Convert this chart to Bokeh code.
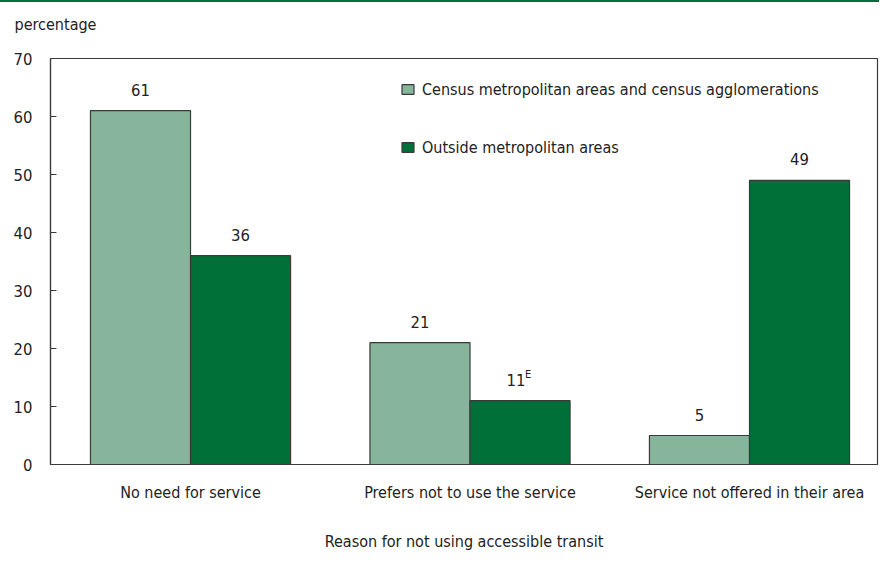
from bokeh.plotting import figure
from bokeh.models import (ColumnDataSource, Range1d, FixedTicker, LabelSet,
                          Legend, LegendItem, LinearAxis)
from bokeh.embed import file_html
from bokeh.resources import INLINE
from bokeh.core.properties import value

# ---- data ----
categories = ["No need for service", "Prefers not to use the service",
              "Service not offered in their area"]
series_names = ["Census metropolitan areas and census agglomerations",
                "Outside metropolitan areas"]
cma_values = [61, 21, 5]
outside_values = [36, 11, 49]
cma_flags = ["", "", ""]
outside_flags = ["", "E", ""]
y_ticks = [0, 10, 20, 30, 40, 50, 60, 70]
y_title = "percentage"
x_title = "Reason for not using accessible transit"

# ---- style ----
FONT = "DejaVu Sans Condensed"
TXT = "#222222"
LINE = "#3a3a3a"
LIGHT = "#86b59c"
DARK = "#007038"
FS = "16px"
FS_NUM = "16.5px"
BAR_W = 0.358
FRAME_W = 827

xs = list(range(len(categories)))

p = figure(width=879, height=551, output_backend="svg", toolbar_location=None,
           x_range=Range1d(-0.501, 2.458), y_range=Range1d(0, 70),
           min_border_left=50, min_border_right=2, min_border_top=56,
           min_border_bottom=89)
p.styles = {"border-top": "2px solid #00703c"}
p.grid.visible = False
p.outline_line_color = LINE
p.outline_line_width = 1.2
p.background_fill_color = "white"
p.border_fill_color = "white"

# main axes (grab them before any extra axis is added)
xa = p.below[0]
ya = p.left[0]

xa.ticker = FixedTicker(ticks=xs)
xa.major_label_overrides = {i: c for i, c in zip(xs, categories)}
xa.major_tick_in = 0
xa.major_tick_out = 0
xa.minor_tick_line_color = None
xa.axis_line_color = LINE
xa.axis_line_width = 1.2
xa.major_label_standoff = 18
xa.major_label_text_font = FONT
xa.major_label_text_font_size = FS
xa.major_label_text_color = TXT
xa.axis_label = x_title
xa.axis_label_text_font = FONT
xa.axis_label_text_font_size = FS
xa.axis_label_text_font_style = "normal"
xa.axis_label_text_color = TXT
xa.axis_label_standoff = 27

ya.ticker = FixedTicker(ticks=y_ticks)
ya.major_tick_in = 6
ya.major_tick_out = 0
ya.major_tick_line_color = LINE
ya.minor_tick_line_color = None
ya.axis_line_color = LINE
ya.axis_line_width = 1.2
ya.major_label_standoff = 18
ya.major_label_text_font = FONT
ya.major_label_text_font_size = FS_NUM
ya.major_label_text_color = TXT

# unit label ("percentage") shown above the top-left corner of the frame
p.extra_x_ranges = {"unit": Range1d(0, FRAME_W)}
unit_axis = LinearAxis(x_range_name="unit", ticker=FixedTicker(ticks=[5]),
                       major_label_overrides={5: y_title},
                       axis_line_color=None, major_tick_line_color=None,
                       minor_tick_line_color=None, major_tick_in=0,
                       major_tick_out=0, major_label_standoff=25,
                       major_label_text_font=FONT,
                       major_label_text_font_size=FS,
                       major_label_text_color=TXT)
p.add_layout(unit_axis, "above")

def src(vals, flags, dx):
    x = [i + dx for i in xs]
    return ColumnDataSource(dict(
        x=x, top=vals, label=[str(v) for v in vals], flag=flags,
        lab_dx=[-4 if f else 0 for f in flags]))

s1 = src(cma_values, cma_flags, -BAR_W / 2)
s2 = src(outside_values, outside_flags, BAR_W / 2)

r1 = p.vbar(x="x", top="top", width=BAR_W, bottom=0, source=s1,
            fill_color=LIGHT, line_color=LINE, line_width=1.2)
r2 = p.vbar(x="x", top="top", width=BAR_W, bottom=0, source=s2,
            fill_color=DARK, line_color=LINE, line_width=1.2)

for s in (s1, s2):
    p.add_layout(LabelSet(x="x", y="top", text="label", source=s,
                          x_offset="lab_dx", y_offset=15,
                          text_align="center", text_baseline="alphabetic",
                          text_font=value(FONT), text_font_size=FS_NUM,
                          text_color=TXT))
    p.add_layout(LabelSet(x="x", y="top", text="flag", source=s,
                          x_offset=5, y_offset=23,
                          text_align="left", text_baseline="alphabetic",
                          text_font=value(FONT), text_font_size="11px",
                          text_color=TXT))

legend = Legend(items=[LegendItem(label=series_names[0], renderers=[r1]),
                       LegendItem(label=series_names[1], renderers=[r2])],
                location=(350, 306), orientation="vertical",
                glyph_width=15, glyph_height=12, label_standoff=7,
                label_height=22, spacing=36, padding=0, margin=0,
                border_line_color=None, background_fill_alpha=0,
                label_text_font=FONT, label_text_font_size=FS,
                label_text_color=TXT)
p.add_layout(legend, "center")

open("out.html", "w").write(file_html(p, INLINE))
